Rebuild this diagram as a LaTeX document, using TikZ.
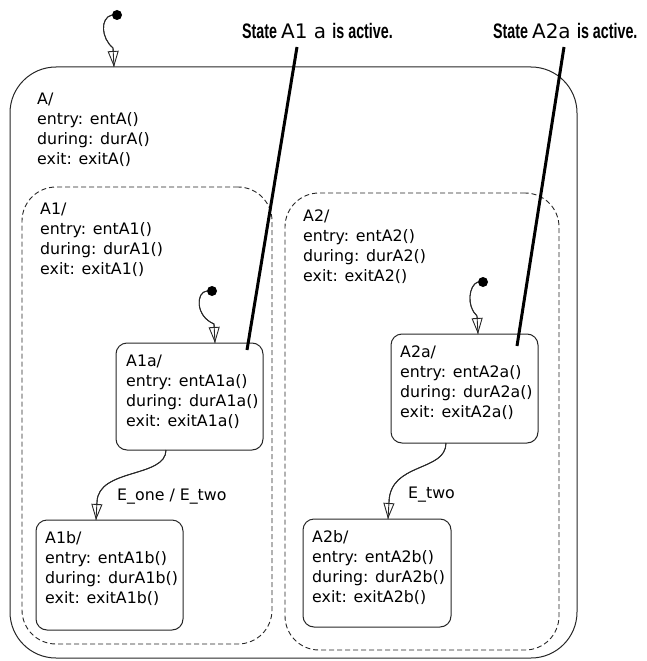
\documentclass[tikz,border=0pt]{standalone}
\usepackage{fontspec}
\setmainfont{DejaVu Sans}
\newfontfamily\annfont[FakeStretch=0.68]{Liberation Sans Bold}
\usetikzlibrary{arrows.meta,calc}
\tikzset{
  outerbox/.style={draw=black!85, line width=1pt, rounded corners=46pt, inner sep=0pt},
  dashbox/.style={draw=black!85, line width=0.9pt, dash pattern=on 5pt off 3pt, rounded corners=34pt, inner sep=0pt},
  statebox/.style={draw=black!85, line width=1pt, rounded corners=11pt, inner sep=0pt},
  txt/.style={anchor=north west, inner sep=0pt, align=left, font=\fontsize{15.8}{20}\selectfont},
  lbl/.style={anchor=base west, inner sep=0pt, font=\fontsize{15.8}{20}\selectfont},
  ann/.style={anchor=base west, inner sep=0pt},
  dot/.style={circle, fill=black, inner sep=0pt, minimum size=10pt},
  tline/.style={draw=black!85, line width=0.9pt},
  trans/.style={draw=black!85, line width=0.9pt, -{Triangle[open,length=16pt,width=11pt,line width=0.9pt]}},
  annline/.style={draw=black, line width=3pt}
}
\begin{document}
\begin{tikzpicture}[x=1pt,y=-1pt]
\useasboundingbox (0,0) rectangle (646,661);
% states
\node[outerbox, minimum width=567pt, minimum height=591pt] (A) at (293.5,362.5) {};
\node[dashbox, minimum width=250pt, minimum height=457pt] (A1) at (147,415.5) {};
\node[dashbox, minimum width=274pt, minimum height=457pt] (A2) at (422,421.5) {};
\node[statebox, minimum width=147pt, minimum height=107pt] (A1a) at (189.5,396.5) {};
\node[statebox, minimum width=147pt, minimum height=109pt] (A2a) at (464.5,388.5) {};
\node[statebox, minimum width=147pt, minimum height=110pt] (A1b) at (109.5,575) {};
\node[statebox, minimum width=148pt, minimum height=108pt] (A2b) at (377,573) {};
% texts
\node[txt] (tA) at (37,92.5) {A/\\entry: entA()\\during: durA()\\exit: exitA()};
\node[txt] (tA1) at (40,203) {A1/\\entry: entA1()\\during: durA1()\\exit: exitA1()};
\node[txt] (tA2) at (303,209.5) {A2/\\entry: entA2()\\during: durA2()\\exit: exitA2()};
\node[txt] (tA1a) at (126,354.5) {A1a/\\entry: entA1a()\\during: durA1a()\\exit: exitA1a()};
\node[txt] (tA2a) at (400,345.5) {A2a/\\entry: entA2a()\\during: durA2a()\\exit: exitA2a()};
\node[txt] (tA1b) at (45,531.5) {A1b/\\entry: entA1b()\\during: durA1b()\\exit: exitA1b()};
\node[txt] (tA2b) at (312,530.5) {A2b/\\entry: entA2b()\\during: durA2b()\\exit: exitA2b()};
% default transitions
\node[dot] (dA) at (117,15) {};
\coordinate (pA) at (114,67);
\draw[tline] (dA.west) .. controls (100,18) and (101,38) .. (113,48) -- (pA);
\draw[trans] (dA.west) .. controls (100,18) and (101,38) .. (113,48) -- (pA);
\node[dot] (d1) at (212,291) {};
\coordinate (p1) at (215,343);
\draw[tline] (d1.west) .. controls (196,292) and (195,316) .. (214,324) -- (p1);
\draw[trans] (d1.west) .. controls (196,292) and (195,316) .. (214,324) -- (p1);
\node[dot] (d2) at (483,282) {};
\coordinate (p2) at (478,334);
\draw[tline] (d2.west) .. controls (469,285) and (466,306) .. (477,316) -- (p2);
\draw[trans] (d2.west) .. controls (469,285) and (466,306) .. (477,316) -- (p2);
% transitions
\coordinate (s1) at (166,450);
\coordinate (e1) at (96,520);
\draw[tline] (s1) .. controls (166,478) and (98,468) .. (97,502) -- (e1);
\draw[trans] (s1) .. controls (166,478) and (98,468) .. (97,502) -- (e1);
\node[lbl] (l1) at (117,500) {E\_one / E\_two};
\coordinate (s2) at (446,443);
\coordinate (e2) at (388,519);
\draw[tline] (s2) .. controls (446,472) and (390,462) .. (389,502) -- (e2);
\draw[trans] (s2) .. controls (446,472) and (390,462) .. (389,502) -- (e2);
\node[lbl] (l2) at (408,498) {E\_two};
% annotations
\node[ann] (n1) at (242,39) {{\annfont\fontsize{21}{21}\selectfont State }{\fontsize{20}{20}\selectfont A1 a }{\annfont\fontsize{21}{21}\selectfont is active.}};
\node[ann] (n2) at (493,39) {{\annfont\fontsize{21}{21}\selectfont State }{\fontsize{20}{20}\selectfont A2a }{\annfont\fontsize{21}{21}\selectfont is active.}};
\coordinate (a1s) at (297,47);
\coordinate (a1e) at (247,350);
\coordinate (a2s) at (564,47);
\coordinate (a2e) at (517,346);
\draw[annline] (a1s) -- (a1e);
\draw[annline] (a2s) -- (a2e);
\end{tikzpicture}
\end{document}
